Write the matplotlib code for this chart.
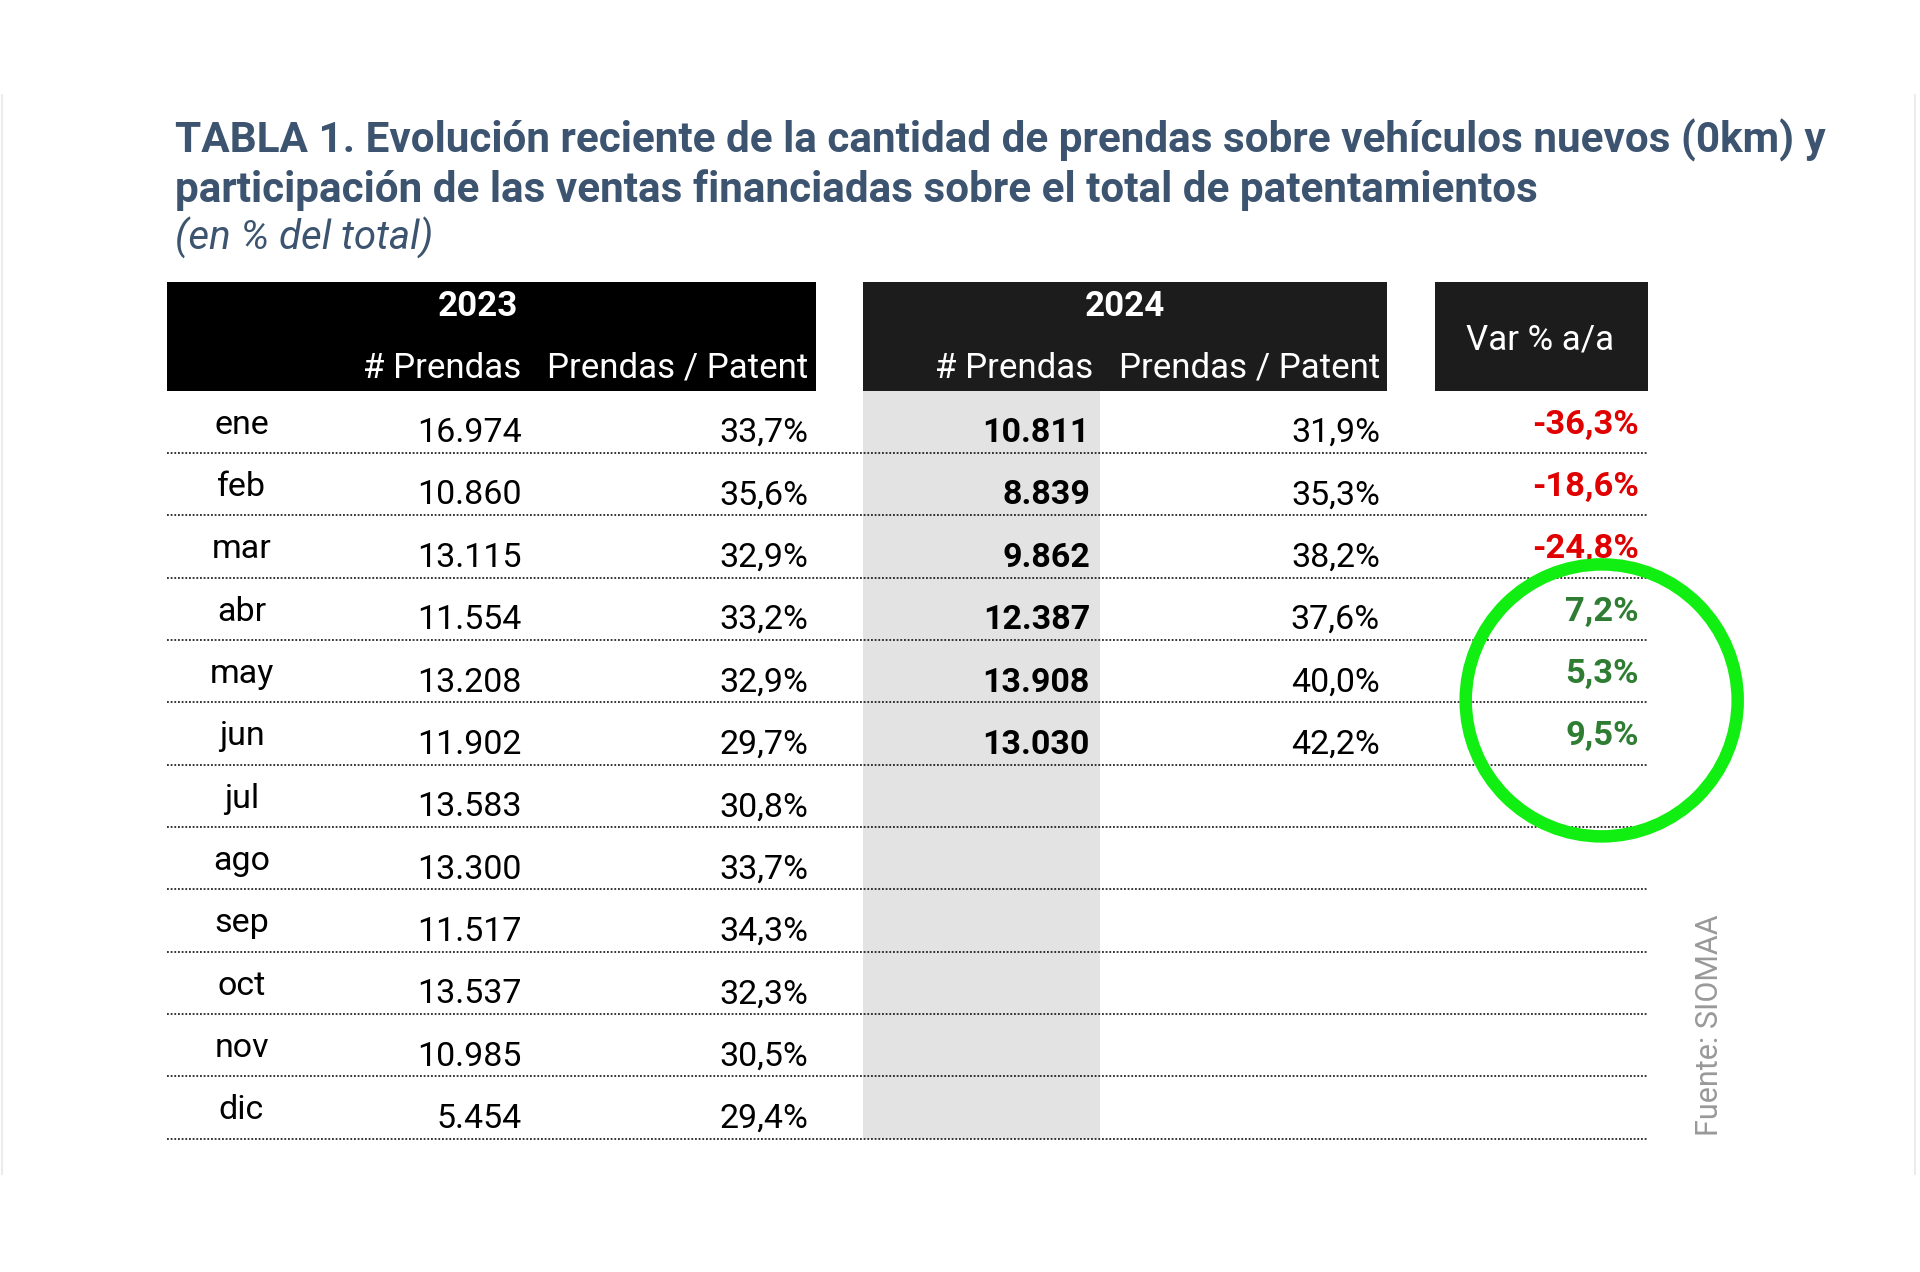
import matplotlib
matplotlib.use("Agg")
import matplotlib.pyplot as plt
from matplotlib.patches import Rectangle, Circle

# ---------------- data ----------------
months = ['ene', 'feb', 'mar', 'abr', 'may', 'jun', 'jul', 'ago', 'sep', 'oct', 'nov', 'dic']
prendas_2023 = [16974, 10860, 13115, 11554, 13208, 11902, 13583, 13300, 11517, 13537, 10985, 5454]
ratio_2023 = [33.7, 35.6, 32.9, 33.2, 32.9, 29.7, 30.8, 33.7, 34.3, 32.3, 30.5, 29.4]
prendas_2024 = [10811, 8839, 9862, 12387, 13908, 13030]
ratio_2024 = [31.9, 35.3, 38.2, 37.6, 40.0, 42.2]
var_aa = [-36.3, -18.6, -24.8, 7.2, 5.3, 9.5]

title_l1 = "TABLA 1. Evolución reciente de la cantidad de prendas sobre vehículos nuevos (0km) y"
title_l2 = "participación de las ventas financiadas sobre el total de patentamientos"
subtitle = "(en % del total)"
col_headers = ["# Prendas", "Prendas / Patent"]
years = ["2023", "2024"]
var_header = "Var % a/a"
source = "Fuente: SIOMAA"

FONT = ['Roboto', 'DejaVu Sans']
TITLE_C = '#3c546f'


def fmt_int(v):
    return f"{v:,}".replace(",", ".")


def fmt_pct(v):
    return f"{v:.1f}%".replace(".", ",")


W, H = 1920, 1272
fig = plt.figure(figsize=(W / 100, H / 100), dpi=100)
ax = fig.add_axes([0, 0, 1, 1])
ax.set_xlim(0, W)
ax.set_ylim(H, 0)
ax.axis('off')

# faint frame edges
ax.plot([2, 2], [95, 1174], color='#ececec', lw=1.5)
ax.plot([1915, 1915], [95, 1174], color='#ececec', lw=1.5)

# titles
ax.text(175, 153, title_l1, fontsize=30.4, fontweight='bold', color=TITLE_C,
        family=FONT, ha='left', va='baseline')
ax.text(175, 202, title_l2, fontsize=30.4, fontweight='bold', color=TITLE_C,
        family=FONT, ha='left', va='baseline')
ax.text(175, 250, subtitle, fontsize=29, style='italic', color=TITLE_C,
        family=FONT, ha='left', va='baseline')

# header geometry
hdr_top, hdr_bot = 281.6, 390.6
row_h = 62.35
n = len(months)
tbl_left, tbl_right = 166.5, 1648

FS = 24.5
FSH = 25.1

# header boxes
ax.add_patch(Rectangle((166.5, hdr_top), 815.5 - 166.5, hdr_bot - hdr_top, color='#000000', lw=0))
ax.add_patch(Rectangle((863, hdr_top), 1387 - 863, hdr_bot - hdr_top, color='#1c1c1c', lw=0))
ax.add_patch(Rectangle((1435, hdr_top), 1648 - 1435, hdr_bot - hdr_top, color='#1c1c1c', lw=0))

# gray highlight column for 2024 prendas
ax.add_patch(Rectangle((863, hdr_bot), 1100 - 863, n * row_h, color='#e3e3e3', lw=0, zorder=0))

ax.text(477.5, 316, years[0], fontsize=FSH, fontweight='bold', color='white', family=FONT,
        ha='center', va='baseline')
ax.text(1125, 316, years[1], fontsize=FSH, fontweight='bold', color='white', family=FONT,
        ha='center', va='baseline')
ax.text(521.6, 378, col_headers[0], fontsize=FSH, color='white', family=FONT, ha='right', va='baseline')
ax.text(808, 378, col_headers[1], fontsize=FSH, color='white', family=FONT, ha='right', va='baseline')
ax.text(1093.5, 378, col_headers[0], fontsize=FSH, color='white', family=FONT, ha='right', va='baseline')
ax.text(1380, 378, col_headers[1], fontsize=FSH, color='white', family=FONT, ha='right', va='baseline')
ax.text(1540, 349, var_header, fontsize=FSH, color='white', family=FONT, ha='center', va='baseline')

# rows
for i, m in enumerate(months):
    top = hdr_bot + i * row_h
    ax.text(241.5, top + 43, m, fontsize=FS, color='black', family=FONT, ha='center', va='baseline')
    ax.text(521.6, top + 51.5, fmt_int(prendas_2023[i]), fontsize=FS, color='black', family=FONT,
            ha='right', va='baseline')
    ax.text(808, top + 51.5, fmt_pct(ratio_2023[i]), fontsize=FS, color='black', family=FONT,
            ha='right', va='baseline')
    if i < len(prendas_2024):
        ax.text(1090, top + 51.5, fmt_int(prendas_2024[i]), fontsize=FS, fontweight='bold',
                color='black', family=FONT, ha='right', va='baseline')
        ax.text(1380, top + 51.5, fmt_pct(ratio_2024[i]), fontsize=FS, color='black', family=FONT,
                ha='right', va='baseline')
        v = var_aa[i]
        ax.text(1639, top + 43, fmt_pct(v), fontsize=FS + 0.3, fontweight='bold',
                color='#e00000' if v < 0 else '#2e7d32', family=FONT, ha='right', va='baseline')
    ax.plot([tbl_left, tbl_right], [top + row_h, top + row_h], color='black', lw=1.1,
            linestyle=(0, (1.2, 1.2)))

# highlight circle
ax.add_patch(Circle((1601.7, 700.4), 136, fill=False, ec='#11ee11', lw=9, zorder=5))

# source
ax.text(1709, 1136, source, fontsize=22, color='#999999', family=FONT, rotation=90,
        ha='center', va='bottom')

fig.savefig("out.png", dpi=100, facecolor='white')
